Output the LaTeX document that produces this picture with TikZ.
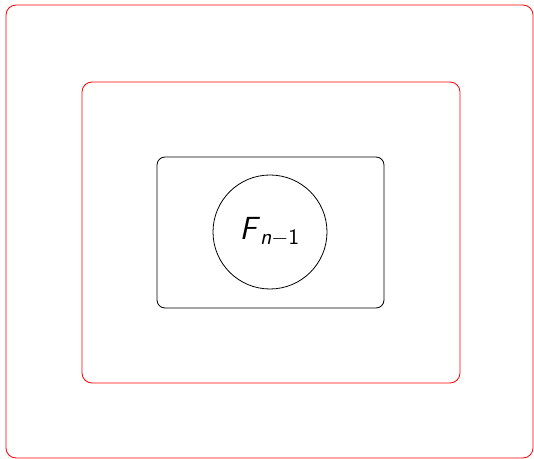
\documentclass[tikz,border=0pt]{standalone}
\usepackage{amsmath}
\usepackage{tikz}
\usetikzlibrary{positioning}

\tikzset{
  redbox/.style={draw=red,rounded corners=5pt,inner sep=0pt,outer sep=0pt},
  blackbox/.style={draw=black,rounded corners=4pt,inner sep=0pt,outer sep=0pt},
  ring/.style={draw=black,circle,inner sep=0pt,outer sep=0pt,minimum size=57pt}
}
\newcommand{\sfit}[1]{\textsf{\textit{#1}}}

\begin{document}
\begin{tikzpicture}[x=0.5pt,y=-0.5pt,font=\fontsize{16}{19}\selectfont]
  \useasboundingbox (0,0) rectangle (534,459);
  \node[redbox,minimum width=263.5pt,minimum height=226.5pt] (outer) at (269.5,231.5) {};
  \node[redbox,minimum width=189pt,minimum height=150.5pt] (middle) at (271,232.5) {};
  \node[blackbox,minimum width=113.5pt,minimum height=75.5pt] (inner) at (270.5,232.5) {};
  \node[ring] (circ) at (270,232) {$\sfit{F}_{\sfit{n}\mathsf{-1}}$};
\end{tikzpicture}
\end{document}
